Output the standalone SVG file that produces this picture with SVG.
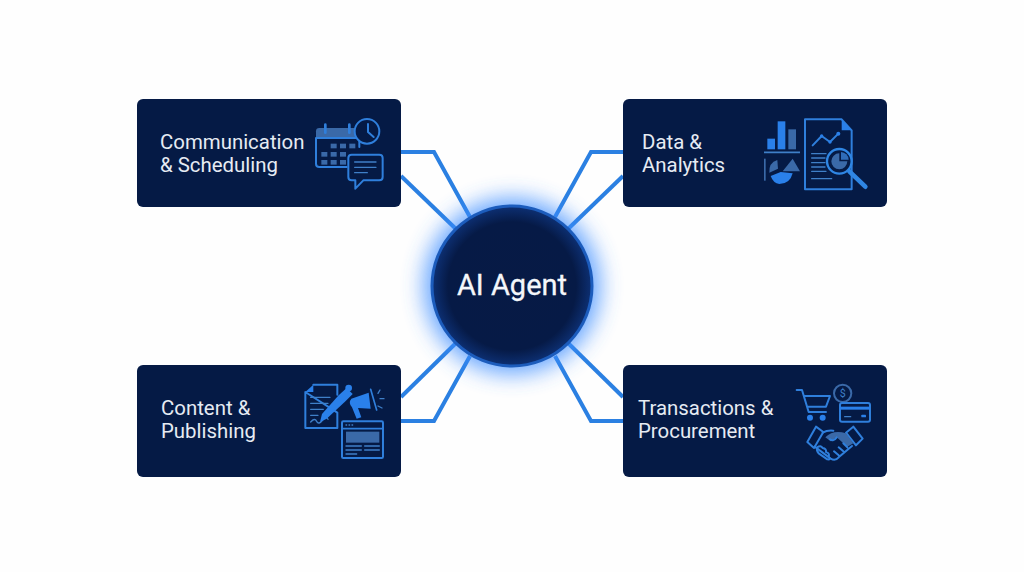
<svg xmlns="http://www.w3.org/2000/svg" width="1024" height="572" viewBox="0 0 1024 572">
<style>
.card{fill:#051a45}
.lbl{font-family:Roboto,"Liberation Sans",sans-serif;font-size:20.4px;fill:#e6ebf3}
.conn{fill:none;stroke:#2b80e2;stroke-width:4;stroke-linejoin:miter}
.s{fill:none;stroke:#2f7fdc;stroke-width:6;stroke-linejoin:round;stroke-linecap:round}
.t{fill:none;stroke:#3f7fc8;stroke-width:4;stroke-linecap:round}
.f{fill:#2a80ea}
.m{fill:#3a69a8}
.d{fill:#2f6cb8}
</style>
<defs>
<filter id="glow" x="-50%" y="-50%" width="200%" height="200%"><feGaussianBlur stdDeviation="11"/></filter>
<radialGradient id="core" cx="50%" cy="50%" r="50%"><stop offset="0" stop-color="#071a45"/><stop offset="0.8" stop-color="#061a46"/><stop offset="1" stop-color="#0d3074"/></radialGradient>
</defs>
<rect width="1024" height="572" fill="#fefefe"/>
<g id="connectors">
<path class="conn" d="M401 152H434L470 217"/>
<path class="conn" d="M401 176L456 229"/>
<path class="conn" d="M623 152H591L555 217"/>
<path class="conn" d="M623 176L568 229"/>
<path class="conn" d="M401 421H434L470 356"/>
<path class="conn" d="M401 397L456 343"/>
<path class="conn" d="M623 421H591L555 356"/>
<path class="conn" d="M623 397L568 343"/>
</g>
<g id="hub">
<circle cx="512" cy="286" r="88" fill="#3d8dff" opacity="0.8" filter="url(#glow)"/>
<circle cx="512" cy="286" r="80" fill="url(#core)" stroke="#1c5cbc" stroke-width="3"/>
<text x="512" y="295" text-anchor="middle" font-family="Roboto,'Liberation Sans',sans-serif" font-size="29" fill="#f4f6fa" stroke="#f4f6fa" stroke-width="0.3">AI Agent</text>
</g>
<g id="node-communication">
<rect class="card" x="137" y="99" width="264" height="108" rx="6"/>
<text class="lbl" x="160" y="149">Communication</text>
<text class="lbl" x="160" y="172">&amp; Scheduling</text>
<g transform="translate(310 112) scale(0.3333)">
<path class="m" d="M18 80V58Q18 48 28 48H148V80Z"/>
<path class="s" d="M18 78V155Q18 165 28 165H110M148 78V105M18 78H140"/>
<path class="s" d="M46 38V62M118 38V62" style="stroke-width:8"/>
<g class="m"><rect x="62" y="95" width="18" height="14"/><rect x="90" y="95" width="18" height="14"/><rect x="118" y="95" width="18" height="14"/><rect x="34" y="120" width="18" height="14"/><rect x="62" y="120" width="18" height="14"/><rect x="90" y="120" width="18" height="14"/><rect x="34" y="144" width="18" height="14"/><rect x="62" y="144" width="18" height="14"/><rect x="90" y="144" width="18" height="14"/></g>
<circle cx="171" cy="58" r="37" fill="#051a45" stroke="#2f7fdc" stroke-width="6"/>
<path class="s" d="M174 36V60L191 75"/>
<path d="M125 128H208Q218 128 218 138V195Q218 205 208 205H160L136 230V205H125Q115 205 115 195V138Q115 128 125 128Z" fill="#051a45" stroke="#2f7fdc" stroke-width="6" stroke-linejoin="round"/>
<path class="t" d="M134 150H198M134 166H198M134 182H172"/>
</g>
</g>
<g id="node-data">
<rect class="card" x="623" y="99" width="264" height="108" rx="6"/>
<text class="lbl" x="642" y="149">Data &amp;</text>
<text class="lbl" x="642" y="172">Analytics</text>
<g transform="translate(760 112) scale(0.3333)">
<rect class="f" x="22" y="80" width="23" height="32"/>
<rect class="f" x="53" y="28" width="23" height="84"/>
<rect class="m" x="85" y="52" width="23" height="60"/>
<path d="M12 121H120" stroke="#3f7fc8" stroke-width="5"/>
<rect class="m" x="12" y="140" width="5" height="66"/>
<path class="m" d="M28 182Q26 152 52 144L54 170Z"/>
<path class="m" d="M68 178L98 140L120 178Z"/>
<path class="f" d="M32 192L62 180L98 184Q90 216 58 216Q40 214 32 192Z"/>
<path class="s" d="M135 22H245L275 55V232H135Z"/>
<path class="f" d="M245 22L275 55H245Z"/>
<path class="s" d="M158 100L185 72L210 90L235 65"/>
<circle class="f" cx="185" cy="72" r="5"/><circle class="f" cx="210" cy="90" r="5"/><circle class="f" cx="235" cy="65" r="6"/>
<path class="t" d="M155 125H198M155 138H195M155 152H195M155 165H195M155 178H198M155 200H215"/>
<circle cx="238" cy="148" r="37" fill="#051a45" stroke="#2f86e4" stroke-width="7"/>
<path class="m" d="M238 124A24 24 0 1 0 262 148H238Z"/>
<path class="d" d="M243 120A24 24 0 0 1 266 143H243Z"/>
<path d="M268 178L316 224" stroke="#2f86e4" stroke-width="14" stroke-linecap="round"/>
</g>
</g>
<g id="node-content">
<rect class="card" x="137" y="365" width="264" height="112" rx="6"/>
<text class="lbl" x="161" y="415">Content &amp;</text>
<text class="lbl" x="161" y="438">Publishing</text>
<g transform="translate(298 378) scale(0.3333)">
<path class="s" d="M46 20H118V50M118 104V150H22V42Z"/>
<path class="f" d="M46 20V42H22Z"/>
<path class="t" d="M38 58H96M38 76H90M38 94H76M38 112H60"/>
<path class="t" d="M38 132Q50 118 56 130T74 126T90 124"/>
<path class="f" d="M122 52L146 30L164 48L140 72L86 122L66 132L72 108Z"/>
<circle class="f" cx="152" cy="30" r="10"/>
<path class="f" d="M160 62L212 44L218 92L180 90L190 118L176 122L162 88Q150 74 160 62Z"/>
<path class="s" d="M218 34L236 96" style="stroke-width:5"/>
<path class="t" d="M246 36L240 46M246 62H258M240 84L252 90"/>
<rect class="s" x="132" y="130" width="123" height="110" rx="4"/>
<path d="M132 152H255" stroke="#2f7fdc" stroke-width="5"/>
<path class="t" d="M144 141H146M153 141H155M162 141H164"/>
<rect class="m" x="144" y="161" width="100" height="33"/>
<path class="t" d="M144 204H190M200 204H244M144 216H190M200 216H244M144 228H176"/>
</g>
</g>
<g id="node-transactions">
<rect class="card" x="623" y="365" width="264" height="112" rx="6"/>
<text class="lbl" x="638" y="415">Transactions &amp;</text>
<text class="lbl" x="638" y="438">Procurement</text>
<g transform="translate(790 380) scale(0.3333)">
<path class="s" d="M20 30H36L56 96H108M42 48H120L108 80H52"/>
<circle class="f" cx="60" cy="113" r="9"/><circle class="f" cx="98" cy="113" r="9"/>
<circle cx="158" cy="40" r="26" fill="none" stroke="#3a69a8" stroke-width="6"/>
<text x="158" y="52" text-anchor="middle" font-family="Roboto,'Liberation Sans',sans-serif" font-size="32" fill="#3f7fc8">$</text>
<rect x="150" y="69" width="90" height="56" rx="6" fill="#051a45" stroke="#2f7fdc" stroke-width="6"/>
<rect class="f" x="150" y="80" width="90" height="9"/>
<path class="t" d="M164 110H182"/>
<rect class="f" x="214" y="104" width="14" height="8" rx="2"/>
<path class="s" d="M78 140L100 156L72 204L52 186Z"/>
<path class="s" d="M190 140L168 158L198 196L218 176Z"/>
<path class="m" d="M106 172Q130 148 168 160L190 190L172 200L140 172L122 184Z"/>
<path class="s" d="M98 158Q112 150 130 152M74 200L122 236Q136 244 146 232L186 198M120 178Q130 186 140 172M160 190L172 202M146 202L160 214M132 214L146 226"/>
<path class="s" d="M82 202Q92 194 98 204Q110 206 108 216Q120 220 116 230Q124 240 112 238L86 220Q78 210 82 202Z"/>
</g>
</g>
</svg>
